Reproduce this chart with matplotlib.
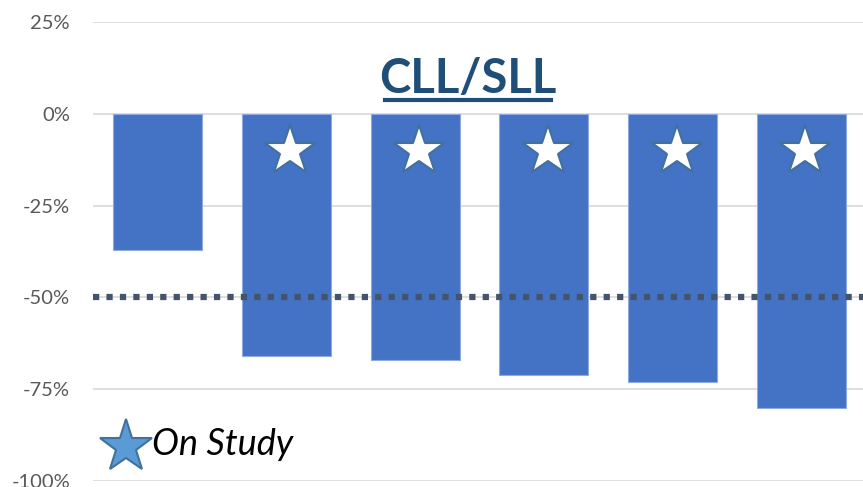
import numpy as np
import matplotlib.pyplot as plt
from matplotlib.ticker import FuncFormatter

# best response per patient (% change)
patients = ["1", "2", "3", "4", "5", "6"]
best_change = [-37, -66, -67, -71, -73, -80]
on_study = [False, True, True, True, True, True]

y_ticks = [25, 0, -25, -50, -75, -100]
threshold = -50

fig = plt.figure(figsize=(8.63, 4.87), dpi=100)
ax = fig.add_axes([0.1078, 0.0123, 0.8957, 0.9425])

x = np.arange(len(patients))
ax.bar(x, best_change, width=0.69, color="#4472C4", edgecolor="#8FAADC",
       linewidth=0.8, zorder=3)

# star on each bar for patients still on study
for xi, flag in zip(x, on_study):
    if flag:
        ax.plot(xi + 0.03, -10, marker="*", markersize=38, color="white",
                markeredgecolor="#41719C", markeredgewidth=1.5, zorder=4)

ax.axhline(threshold, color="#44546A", linewidth=4.5, linestyle=(0, (1, 1.15)),
           dash_capstyle="butt", zorder=5)

ax.set_xlim(-0.5, len(patients) - 0.5)
ax.set_ylim(-100, 25)
ax.set_yticks(y_ticks)
ax.yaxis.set_major_formatter(FuncFormatter(lambda v, _: f"{v:.0f}%"))
ax.set_xticks([])
ax.tick_params(axis="y", length=0, pad=16.5, labelsize=14.5, labelcolor="#595959")
for lbl in ax.get_yticklabels():
    lbl.set_fontfamily("Lato")
ax.grid(axis="y", color="#D9D9D9", linewidth=1.2, zorder=0)
for s in ax.spines.values():
    s.set_visible(False)

fig.text(0.5425, 0.838, "CLL/SLL", fontsize=34, fontweight="bold", family="Lato",
         color="#1F4E79", ha="center", va="center")
fig.add_artist(plt.Line2D([0.4462, 0.6385], [0.795, 0.795], color="#1F4E79",
                          linewidth=3, transform=fig.transFigure))

# legend: on study marker
fig.add_artist(plt.Line2D([0.146], [0.082], marker="*", markersize=40,
                          color="#5B9BD5", markeredgecolor="#41719C",
                          markeredgewidth=1.5, transform=fig.transFigure))
fig.text(0.176, 0.088, "On Study", fontsize=26, style="italic", family="Lato",
         color="black", ha="left", va="center")

fig.savefig("out.png", dpi=100)
